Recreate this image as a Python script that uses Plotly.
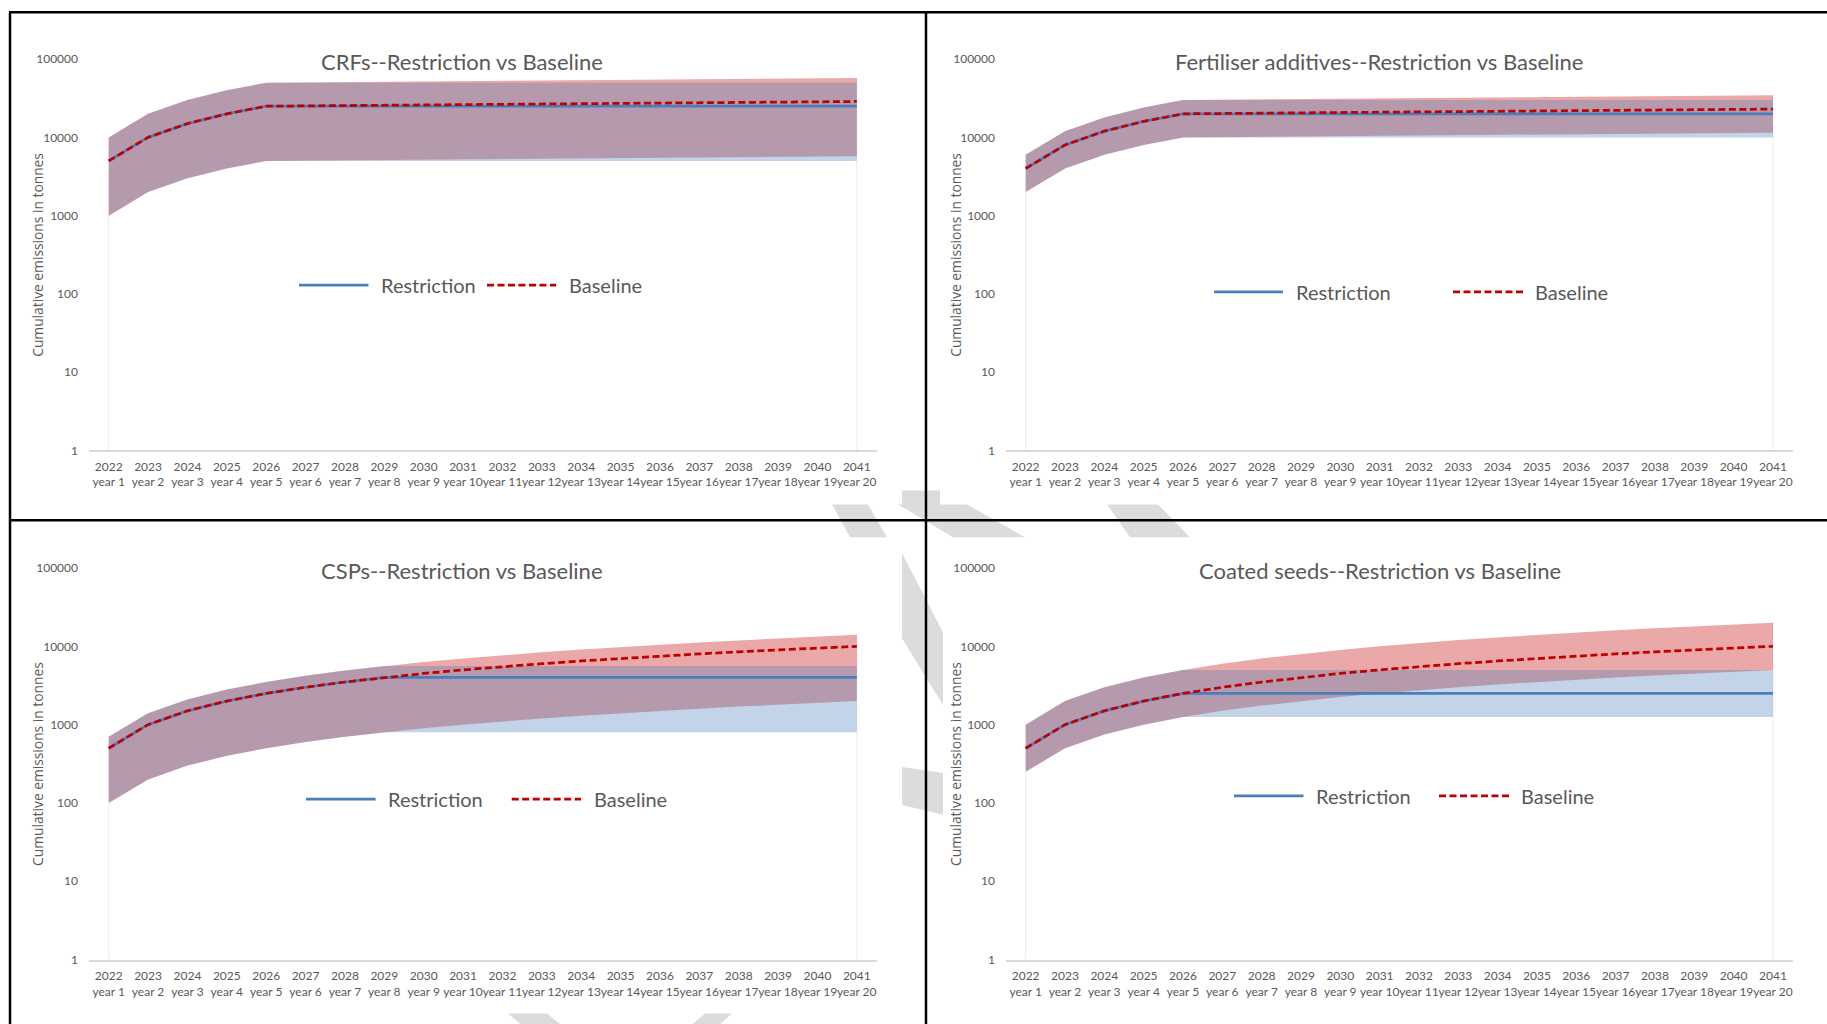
import plotly.graph_objects as go

# ---------------- data ----------------
years = [2022, 2023, 2024, 2025, 2026, 2027, 2028, 2029, 2030, 2031,
         2032, 2033, 2034, 2035, 2036, 2037, 2038, 2039, 2040, 2041]
year_labels = ["year 1", "year 2", "year 3", "year 4", "year 5", "year 6", "year 7",
               "year 8", "year 9", "year 10", "year 11", "year 12", "year 13", "year 14",
               "year 15", "year 16", "year 17", "year 18", "year 19", "year 20"]
y_tick_vals = [1, 10, 100, 1000, 10000, 100000]
y_tick_text = ["1", "10", "100", "1000", "10000", "100000"]

# CRFs
crf_restriction = [5000, 10000, 15000, 20000, 25000, 25000, 25000, 25000, 25000, 25000,
                   25000, 25000, 25000, 25000, 25000, 25000, 25000, 25000, 25000, 25000]
crf_baseline = [5000, 10000, 15000, 20000, 25000, 25250, 25500, 25750, 26000, 26250,
                26500, 26750, 27000, 27250, 27500, 27750, 28000, 28250, 28500, 28750]
crf_restr_low = [1000, 2000, 3000, 4000, 5000, 5000, 5000, 5000, 5000, 5000,
                 5000, 5000, 5000, 5000, 5000, 5000, 5000, 5000, 5000, 5000]
crf_restr_high = [10000, 20000, 30000, 40000, 50000, 50000, 50000, 50000, 50000, 50000,
                  50000, 50000, 50000, 50000, 50000, 50000, 50000, 50000, 50000, 50000]
crf_base_low = [1000, 2000, 3000, 4000, 5000, 5050, 5100, 5150, 5200, 5250,
                5300, 5350, 5400, 5450, 5500, 5550, 5600, 5650, 5700, 5750]
crf_base_high = [10000, 20000, 30000, 40000, 50000, 50500, 51000, 51500, 52000, 52500,
                 53000, 53500, 54000, 54500, 55000, 55500, 56000, 56500, 57000, 57500]

# Fertiliser additives
fert_restriction = [4000, 8000, 12000, 16000, 20000, 20000, 20000, 20000, 20000, 20000,
                    20000, 20000, 20000, 20000, 20000, 20000, 20000, 20000, 20000, 20000]
fert_baseline = [4000, 8000, 12000, 16000, 20000, 20200, 20400, 20600, 20800, 21000,
                 21200, 21400, 21600, 21800, 22000, 22200, 22400, 22600, 22800, 23000]
fert_restr_low = [2000, 4000, 6000, 8000, 10000, 10000, 10000, 10000, 10000, 10000,
                  10000, 10000, 10000, 10000, 10000, 10000, 10000, 10000, 10000, 10000]
fert_restr_high = [6000, 12000, 18000, 24000, 30000, 30000, 30000, 30000, 30000, 30000,
                   30000, 30000, 30000, 30000, 30000, 30000, 30000, 30000, 30000, 30000]
fert_base_low = [2000, 4000, 6000, 8000, 10000, 10100, 10200, 10300, 10400, 10500,
                 10600, 10700, 10800, 10900, 11000, 11100, 11200, 11300, 11400, 11500]
fert_base_high = [6000, 12000, 18000, 24000, 30000, 30300, 30600, 30900, 31200, 31500,
                  31800, 32100, 32400, 32700, 33000, 33300, 33600, 33900, 34200, 34500]

# CSPs
csp_restriction = [500, 1000, 1500, 2000, 2500, 3000, 3500, 4000, 4000, 4000,
                   4000, 4000, 4000, 4000, 4000, 4000, 4000, 4000, 4000, 4000]
csp_baseline = [500, 1000, 1500, 2000, 2500, 3000, 3500, 4000, 4500, 5000,
                5500, 6000, 6500, 7000, 7500, 8000, 8500, 9000, 9500, 10000]
csp_restr_low = [100, 200, 300, 400, 500, 600, 700, 800, 800, 800,
                 800, 800, 800, 800, 800, 800, 800, 800, 800, 800]
csp_restr_high = [700, 1400, 2100, 2800, 3500, 4200, 4900, 5600, 5600, 5600,
                  5600, 5600, 5600, 5600, 5600, 5600, 5600, 5600, 5600, 5600]
csp_base_low = [100, 200, 300, 400, 500, 600, 700, 800, 900, 1000,
                1100, 1200, 1300, 1400, 1500, 1600, 1700, 1800, 1900, 2000]
csp_base_high = [700, 1400, 2100, 2800, 3500, 4200, 4900, 5600, 6300, 7000,
                 7700, 8400, 9100, 9800, 10500, 11200, 11900, 12600, 13300, 14000]

# Coated seeds
seed_restriction = [500, 1000, 1500, 2000, 2500, 2500, 2500, 2500, 2500, 2500,
                    2500, 2500, 2500, 2500, 2500, 2500, 2500, 2500, 2500, 2500]
seed_baseline = [500, 1000, 1500, 2000, 2500, 3000, 3500, 4000, 4500, 5000,
                 5500, 6000, 6500, 7000, 7500, 8000, 8500, 9000, 9500, 10000]
seed_restr_low = [250, 500, 750, 1000, 1250, 1250, 1250, 1250, 1250, 1250,
                  1250, 1250, 1250, 1250, 1250, 1250, 1250, 1250, 1250, 1250]
seed_restr_high = [1000, 2000, 3000, 4000, 5000, 5000, 5000, 5000, 5000, 5000,
                   5000, 5000, 5000, 5000, 5000, 5000, 5000, 5000, 5000, 5000]
seed_base_low = [250, 500, 750, 1000, 1250, 1500, 1750, 2000, 2250, 2500,
                 2750, 3000, 3250, 3500, 3750, 4000, 4250, 4500, 4750, 5000]
seed_base_high = [1000, 2000, 3000, 4000, 5000, 6000, 7000, 8000, 9000, 10000,
                  11000, 12000, 13000, 14000, 15000, 16000, 17000, 18000, 19000, 20000]

titles = ["CRFs--Restriction vs Baseline",
          "Fertiliser additives--Restriction vs Baseline",
          "CSPs--Restriction vs Baseline",
          "Coated seeds--Restriction vs Baseline"]
series_names = ["Restriction", "Baseline"]
y_title = "Cumulative emissions in tonnes"

# ---------------- styling / layout ----------------
W, H = 1827, 1024
def fx(x):
    return x / W
def fy(y):
    # vertical placement calibrated to the rendered page
    return 1 - (1.0132 * y - 6.9) / H

TXT = "#595959"
BLUE = "#4a7ebb"
RED = "#c00000"
BLUE_FILL = "rgba(79,129,189,0.34)"
RED_FILL = "rgba(192,0,0,0.34)"
FONT_MAIN = "Lato, 'Liberation Sans', Arial, sans-serif"
FONT_YT = "'Open Sans', 'DejaVu Sans', sans-serif"

panel_data = [
    (crf_restriction, crf_baseline, crf_restr_low, crf_restr_high, crf_base_low, crf_base_high),
    (fert_restriction, fert_baseline, fert_restr_low, fert_restr_high, fert_base_low, fert_base_high),
    (csp_restriction, csp_baseline, csp_restr_low, csp_restr_high, csp_base_low, csp_base_high),
    (seed_restriction, seed_baseline, seed_restr_low, seed_restr_high, seed_base_low, seed_base_high),
]

# pixel geometry of each panel
geom = [
    dict(x0=89, x1=876.5, y0=58, y1=450, title=(462, 60), ytitle=(38, 254),
         leg_y=284.5, l1=(299, 368.5), t1=380, l2=(487, 556), t2=568),
    dict(x0=1006, x1=1792.6, y0=58, y1=450, title=(1379, 60), ytitle=(956, 254),
         leg_y=291.2, l1=(1214, 1283), t1=1295, l2=(1453, 1523), t2=1534),
    dict(x0=89, x1=876.5, y0=567.7, y1=960, title=(462, 570.5), ytitle=(38, 764),
         leg_y=799.2, l1=(306, 375.6), t1=387, l2=(511.7, 581), t2=592.7),
    dict(x0=1006, x1=1792.6, y0=567.7, y1=960, title=(1379.5, 570.5), ytitle=(956, 764),
         leg_y=796, l1=(1234, 1303.5), t1=1314.5, l2=(1439, 1509), t2=1520),
]

fig = go.Figure()
tick_text = [f"{y}<br>{lab}" for y, lab in zip(years, year_labels)]

annotations = []
shapes = []

# watermark fragments visible in gaps between chart panels
WM = "#dcdcdc"
watermark_polys = [
    [(832, 504), (868, 504), (887, 537), (850, 537)],
    [(902, 490), (940, 490), (940, 504), (967, 504), (1025, 537), (953, 537), (898, 504), (902, 504)],
    [(1107, 504), (1158, 504), (1190, 537), (1130, 537)],
    [(902, 553), (943, 632), (943, 705), (902, 638)],
    [(902, 767), (943, 773), (943, 815), (902, 805)],
    [(508, 1014), (547, 1014), (567, 1030), (527, 1030)],
    [(705, 1014), (732, 1014), (714, 1030), (686, 1030)],
]
for poly in watermark_polys:
    path = "M " + " L ".join(f"{fx(x):.5f},{fy(y):.5f}" for x, y in poly) + " Z"
    shapes.append(dict(type="path", path=path, xref="paper", yref="paper",
                       fillcolor=WM, line=dict(width=0), layer="below"))

for i, (data, g) in enumerate(zip(panel_data, geom)):
    restr, base, rlo, rhi, blo, bhi = data
    n = "" if i == 0 else str(i + 1)
    xa, ya = "x" + n, "y" + n

    # faint edge lines of the area series
    fig.add_trace(go.Scatter(x=[years[0], years[0], None, years[-1], years[-1]],
                             y=[1, min(rlo[0], blo[0]), None, 1, max(rhi[-1], bhi[-1])],
                             xaxis=xa, yaxis=ya, mode="lines",
                             line=dict(color="#ececec", width=1), showlegend=False, hoverinfo="skip"))
    # baseline band (red)
    fig.add_trace(go.Scatter(x=years, y=blo, xaxis=xa, yaxis=ya, mode="lines",
                             line=dict(width=0), showlegend=False, hoverinfo="skip"))
    fig.add_trace(go.Scatter(x=years, y=bhi, xaxis=xa, yaxis=ya, mode="lines",
                             line=dict(width=0), fill="tonexty", fillcolor=RED_FILL,
                             showlegend=False, hoverinfo="skip"))
    # restriction band (blue)
    fig.add_trace(go.Scatter(x=years, y=rlo, xaxis=xa, yaxis=ya, mode="lines",
                             line=dict(width=0), showlegend=False, hoverinfo="skip"))
    fig.add_trace(go.Scatter(x=years, y=rhi, xaxis=xa, yaxis=ya, mode="lines",
                             line=dict(width=0), fill="tonexty", fillcolor=BLUE_FILL,
                             showlegend=False, hoverinfo="skip"))
    # lines
    fig.add_trace(go.Scatter(x=years, y=restr, xaxis=xa, yaxis=ya, mode="lines",
                             name=series_names[0], line=dict(color=BLUE, width=2.75),
                             showlegend=False))
    fig.add_trace(go.Scatter(x=years, y=base, xaxis=xa, yaxis=ya, mode="lines",
                             name=series_names[1],
                             line=dict(color=RED, width=2.75, dash="7px,3.5px"),
                             showlegend=False))

    fig.update_layout(**{
        "xaxis" + n: dict(domain=[fx(g["x0"]), fx(g["x1"])], anchor=ya,
                          range=[years[0] - 0.5, years[-1] + 0.5],
                          tickvals=years, ticktext=tick_text, tickangle=0,
                          showline=True, linecolor="#d9d9d9", linewidth=2,
                          showgrid=False, zeroline=False, ticks="",
                          ticklabelstandoff=4,
                          tickfont=dict(family=FONT_MAIN, size=12, color=TXT)),
        "yaxis" + n: dict(domain=[fy(g["y1"]), fy(g["y0"])], anchor=xa,
                          type="log", range=[0, 5],
                          tickvals=y_tick_vals, ticktext=y_tick_text,
                          showline=False, showgrid=False, zeroline=False, ticks="",
                          ticklabelstandoff=10,
                          tickfont=dict(family=FONT_MAIN, size=12, color=TXT)),
    })

    # title
    annotations.append(dict(text=titles[i], x=fx(g["title"][0]), y=fy(g["title"][1]),
                            xref="paper", yref="paper", xanchor="center", yanchor="middle",
                            showarrow=False,
                            font=dict(family=FONT_MAIN, size=22, color=TXT)))
    # y-axis title
    annotations.append(dict(text=y_title, x=fx(g["ytitle"][0]), y=fy(g["ytitle"][1]),
                            xref="paper", yref="paper", xanchor="center", yanchor="middle",
                            textangle=-90, showarrow=False,
                            font=dict(family=FONT_YT, size=13.8, color=TXT)))
    # legend
    ly = fy(g["leg_y"])
    shapes.append(dict(type="line", xref="paper", yref="paper",
                       x0=fx(g["l1"][0]), x1=fx(g["l1"][1]), y0=ly, y1=ly,
                       line=dict(color=BLUE, width=2.75)))
    shapes.append(dict(type="line", xref="paper", yref="paper",
                       x0=fx(g["l2"][0]), x1=fx(g["l2"][1]), y0=ly, y1=ly,
                       line=dict(color=RED, width=2.75, dash="7px,3.5px")))
    for tx, name in ((g["t1"], series_names[0]), (g["t2"], series_names[1])):
        annotations.append(dict(text=name, x=fx(tx), y=ly, xref="paper", yref="paper",
                                xanchor="left", yanchor="middle", showarrow=False,
                                borderpad=0,
                                font=dict(family=FONT_MAIN, size=20, color=TXT)))

# black frame lines
BL = "#000000"
for (x0, y0, x1, y1) in [(9, 11, W, 11), (10, 11, 10, 1040), (926, 11, 926, 1040), (9, 520, W, 520)]:
    shapes.append(dict(type="line", xref="paper", yref="paper",
                       x0=fx(x0), y0=fy(y0), x1=fx(x1), y1=fy(y1),
                       line=dict(color=BL, width=2.5), layer="above"))

fig.update_layout(width=W, height=H, margin=dict(l=0, r=0, t=0, b=0),
                  paper_bgcolor="white", plot_bgcolor="rgba(0,0,0,0)",
                  showlegend=False, annotations=annotations, shapes=shapes)

post = ("var gd=document.getElementById('{plot_id}');"
        "document.documentElement.style.margin='0';"
        "document.documentElement.style.overflow='hidden';"
        "document.body.style.margin='0';document.body.style.padding='0';"
        "document.body.style.overflow='hidden';"
        "gd.style.position='absolute';gd.style.left='0px';gd.style.top='0px';")
fig.write_html("out.html", config={"displayModeBar": False}, post_script=post)
